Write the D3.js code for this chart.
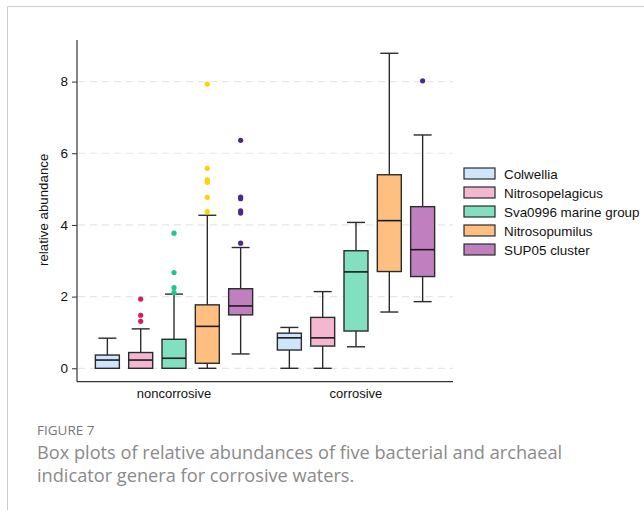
<!DOCTYPE html>
<html>
<head>
<meta charset="utf-8">
<script src="https://cdn.jsdelivr.net/npm/d3@7"></script>
<style>
  body { margin: 0; background: #fff; }
  svg { display: block; }
</style>
</head>
<body>
<div id="chart"></div>
<script>
// groups and genera
const groups = ["noncorrosive", "corrosive"];
const genera = ["Colwellia", "Nitrosopelagicus", "Sva0996 marine group", "Nitrosopumilus", "SUP05 cluster"];
const fills = ["#cfe5fb", "#f3b7cf", "#80e0c0", "#ffbf80", "#c080c0"];
const dotColors = ["#5aa0e0", "#d81b60", "#1ec78b", "#ffd200", "#4a2a8e"];

// box stats, one row per group, one value per genus
const whiskerLow  = [[0, 0, 0, 0, 0.40], [0, 0, 0.60, 1.57, 1.86]];
const q1          = [[0, 0, 0, 0.14, 1.49], [0.51, 0.62, 1.04, 2.70, 2.56]];
const median      = [[0.23, 0.23, 0.28, 1.17, 1.74], [0.85, 0.85, 2.69, 4.12, 3.31]];
const q3          = [[0.37, 0.44, 0.81, 1.77, 2.22], [0.98, 1.42, 3.28, 5.40, 4.51]];
const whiskerHigh = [[0.84, 1.10, 2.07, 4.27, 3.37], [1.14, 2.14, 4.07, 8.79, 6.51]];

// outliers: [group, genus, value]
const outliers = [
  [0, 1, 1.93], [0, 1, 1.48], [0, 1, 1.31],
  [0, 2, 3.77], [0, 2, 2.67], [0, 2, 2.25], [0, 2, 2.11],
  [0, 3, 7.93], [0, 3, 5.58], [0, 3, 5.26], [0, 3, 5.19], [0, 3, 4.77], [0, 3, 4.37],
  [0, 4, 6.36], [0, 4, 4.78], [0, 4, 4.73], [0, 4, 4.39], [0, 4, 4.33], [0, 4, 3.49],
  [1, 4, 8.02]
];

const yTicks = [0, 2, 4, 6, 8];

const width = 644, height = 510;
const plot = { left: 77, right: 453, top: 40, bottom: 381.7 };

const svg = d3.select("#chart").append("svg")
  .attr("width", width)
  .attr("height", height)
  .style("font-family", "'Liberation Sans', Arial, sans-serif");

// page frame (top and left rules)
svg.append("line").attr("x1", 7.5).attr("x2", width).attr("y1", 6.5).attr("y2", 6.5)
  .attr("stroke", "#cccccc").attr("stroke-width", 1);
svg.append("line").attr("x1", 7.5).attr("x2", 7.5).attr("y1", 6.5).attr("y2", height)
  .attr("stroke", "#cccccc").attr("stroke-width", 1);

const y = d3.scaleLinear().domain([-0.374, 9.16]).range([plot.bottom, plot.top]);
const x = d3.scalePoint().domain(groups).range([plot.left, plot.right]).padding(0.533);
const inner = d3.scaleBand().domain(d3.range(genera.length)).range([-83.3, 83.3]).paddingInner(0.28).paddingOuter(0.14);
const boxW = inner.bandwidth();

// gridlines
svg.append("g")
  .selectAll("line")
  .data(yTicks)
  .join("line")
  .attr("x1", plot.left + 1).attr("x2", plot.right)
  .attr("y1", d => y(d)).attr("y2", d => y(d))
  .attr("stroke", "#e6e6e6")
  .attr("stroke-width", 1.2)
  .attr("stroke-dasharray", "7,5");

// y axis
const yAxis = svg.append("g")
  .attr("transform", `translate(${plot.left},0)`)
  .call(d3.axisLeft(y).tickValues(yTicks).tickSize(5).tickSizeOuter(0).tickPadding(4));
yAxis.select(".domain").attr("d", `M0,${plot.top}V${plot.bottom}`).attr("stroke", "#333").attr("stroke-width", 1.2);
yAxis.selectAll(".tick line").attr("stroke", "#333");
yAxis.selectAll(".tick text").attr("font-size", 13.5).attr("fill", "#111").style("font-family", "'Liberation Sans', Arial, sans-serif");

// x axis
svg.append("line")
  .attr("x1", plot.left).attr("x2", plot.right)
  .attr("y1", plot.bottom).attr("y2", plot.bottom)
  .attr("stroke", "#333").attr("stroke-width", 1.2);
svg.append("g")
  .selectAll("text")
  .data(groups)
  .join("text")
  .attr("x", d => x(d))
  .attr("y", 398)
  .attr("text-anchor", "middle")
  .attr("font-size", 13)
  .attr("fill", "#111")
  .text(d => d);

svg.append("text")
  .attr("transform", `translate(48,${(plot.top + plot.bottom) / 2 - 1}) rotate(-90)`)
  .attr("text-anchor", "middle")
  .attr("font-size", 13.3)
  .attr("fill", "#111")
  .text("relative abundance");

// boxes
const boxes = [];
groups.forEach((g, gi) => genera.forEach((name, k) => {
  boxes.push({ gi, k, cx: x(g) + inner(k) + boxW / 2,
    lo: whiskerLow[gi][k], q1: q1[gi][k], med: median[gi][k], q3: q3[gi][k], hi: whiskerHigh[gi][k] });
}));

const box = svg.append("g").selectAll("g").data(boxes).join("g");
const stroke = "#2b2b2b";
const capW = boxW * 0.75;

box.append("line")
  .attr("x1", d => d.cx).attr("x2", d => d.cx)
  .attr("y1", d => y(d.hi)).attr("y2", d => y(d.lo))
  .attr("stroke", stroke).attr("stroke-width", 1.4);
box.append("line")
  .attr("x1", d => d.cx - capW / 2).attr("x2", d => d.cx + capW / 2)
  .attr("y1", d => y(d.hi)).attr("y2", d => y(d.hi))
  .attr("stroke", stroke).attr("stroke-width", 1.4);
box.append("line")
  .attr("x1", d => d.cx - capW / 2).attr("x2", d => d.cx + capW / 2)
  .attr("y1", d => y(d.lo)).attr("y2", d => y(d.lo))
  .attr("stroke", stroke).attr("stroke-width", 1.4);
box.append("rect")
  .attr("x", d => d.cx - boxW / 2)
  .attr("width", boxW)
  .attr("y", d => y(d.q3))
  .attr("height", d => Math.max(0.5, y(d.q1) - y(d.q3)))
  .attr("fill", d => fills[d.k])
  .attr("stroke", stroke).attr("stroke-width", 1.4);
box.append("line")
  .attr("x1", d => d.cx - boxW / 2).attr("x2", d => d.cx + boxW / 2)
  .attr("y1", d => y(d.med)).attr("y2", d => y(d.med))
  .attr("stroke", "#1a1a1a").attr("stroke-width", 1.6);

// outlier dots
svg.append("g")
  .selectAll("circle")
  .data(outliers)
  .join("circle")
  .attr("cx", d => x(groups[d[0]]) + inner(d[1]) + boxW / 2)
  .attr("cy", d => y(d[2]))
  .attr("r", 2.6)
  .attr("fill", d => dotColors[d[1]]);

// legend
const legend = svg.append("g").attr("transform", "translate(464,168)")
  .selectAll("g").data(genera).join("g")
  .attr("transform", (d, i) => `translate(0,${i * 19})`);
legend.append("rect")
  .attr("width", 31).attr("height", 11)
  .attr("fill", (d, i) => fills[i])
  .attr("stroke", stroke).attr("stroke-width", 1.2);
legend.append("text")
  .attr("x", 40).attr("y", 10.5)
  .attr("font-size", 13.4)
  .attr("fill", "#111")
  .text(d => d);

// caption
svg.append("text")
  .attr("x", 37).attr("y", 435)
  .attr("font-size", 13.5)
  .attr("fill", "#777")
  .style("font-family", "'Open Sans', sans-serif")
  .text("FIGURE 7");
const caption = ["Box plots of relative abundances of five bacterial and archaeal",
                 "indicator genera for corrosive waters."];
svg.append("g").selectAll("text").data(caption).join("text")
  .attr("x", 37).attr("y", (d, i) => 459 + i * 22.5)
  .attr("font-size", 18.2)
  .attr("fill", "#8a8a8a")
  .style("font-family", "'Open Sans', sans-serif")
  .text(d => d);
</script>
</body>
</html>
